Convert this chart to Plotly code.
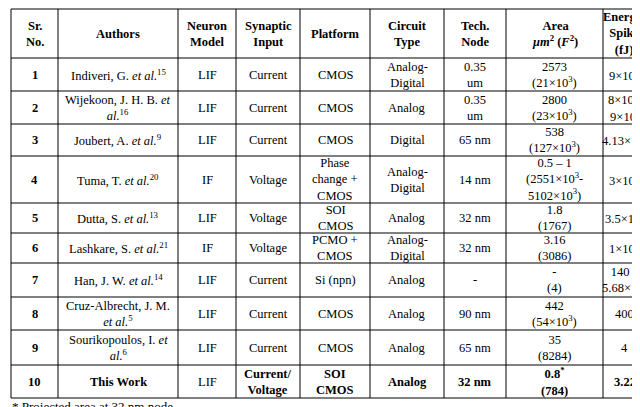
import plotly.graph_objects as go

headers = ["<b>Sr.<br>No.</b>", "<b>Authors</b>", "<b>Neuron<br>Model</b>", "<b>Synaptic<br>Input</b>",
           "<b>Platform</b>", "<b>Circuit<br>Type</b>", "<b>Tech.<br>Node</b>",
           "<b>Area<br><i>μm</i><sup>2</sup> (<i>F</i><sup>2</sup>)</b>", "<b>Energy/<br>Spike<br>(fJ)</b>"]

sr_no = ["<b>%d</b>" % i for i in range(1, 11)]
authors = ["Indiveri, G. <i>et al.</i><sup>15</sup>", "Wijekoon, J. H. B. <i>et</i><br><i>al.</i><sup>16</sup>",
           "Joubert, A. <i>et al.</i><sup>9</sup>", "Tuma, T. <i>et al.</i><sup>20</sup>",
           "Dutta, S. <i>et al.</i><sup>13</sup>", "Lashkare, S. <i>et al.</i><sup>21</sup>",
           "Han, J. W. <i>et al.</i><sup>14</sup>", "Cruz-Albrecht, J. M.<br><i>et al.</i><sup>5</sup>",
           "Sourikopoulos, I. <i>et</i><br><i>al.</i><sup>6</sup>", "<b>This Work</b>"]
neuron = ["LIF", "LIF", "LIF", "IF", "LIF", "IF", "LIF", "LIF", "LIF", "LIF"]
synaptic = ["Current", "Current", "Current", "Voltage", "Voltage", "Voltage", "Current", "Current",
            "Current", "<b>Current/<br>Voltage</b>"]
platform = ["CMOS", "CMOS", "CMOS", "Phase<br>change +<br>CMOS", "SOI<br>CMOS", "PCMO +<br>CMOS",
            "Si (npn)", "CMOS", "CMOS", "<b>SOI<br>CMOS</b>"]
circuit = ["Analog-<br>Digital", "Analog", "Digital", "Analog-<br>Digital", "Analog", "Analog-<br>Digital",
           "Analog", "Analog", "Analog", "<b>Analog</b>"]
tech = ["0.35<br>um", "0.35<br>um", "65 nm", "14 nm", "32 nm", "32 nm", "-", "90 nm", "65 nm", "<b>32 nm</b>"]
area = ["2573<br>(21×10<sup>3</sup>)", "2800<br>(23×10<sup>3</sup>)", "538<br>(127×10<sup>3</sup>)",
        "0.5 – 1<br>(2551×10<sup>3</sup>-<br>5102×10<sup>3</sup>)", "1.8<br>(1767)", "3.16<br>(3086)",
        "-<br>(4)", "442<br>(54×10<sup>3</sup>)", "35<br>(8284)", "<b>0.8<sup>*</sup><br>(784)</b>"]
energy = ["9×10<sup>5</sup>", "8×10<sup>3</sup>-<br>9×10<sup>3</sup>", "4.13×10<sup>4</sup>", "3×10<sup>4</sup>",
          "3.5×10<sup>4</sup>", "1×10<sup>4</sup>", "140 –<br>5.68×10<sup>3</sup>", "400", "4", "<b>3.22</b>"]

columns = [sr_no, authors, neuron, synaptic, platform, circuit, tech, area, energy]

# layout grid (pixel units)
col_edges = [3, 50, 170, 228, 292, 362, 436, 498, 595, 638]
row_heights = [49, 33, 33, 32, 47, 30, 30, 34, 33, 35, 33]
row_edges = [1]
for h in row_heights:
    row_edges.append(row_edges[-1] + h)

fnt = dict(family="Liberation Serif", size=12.5, color="black")
fig = go.Figure()

for i, h in enumerate(headers):
    fig.add_annotation(x=(col_edges[i] + col_edges[i + 1]) / 2, y=(row_edges[0] + row_edges[1]) / 2,
                       text=h, showarrow=False, font=fnt)
for c, col in enumerate(columns):
    for r, v in enumerate(col):
        fig.add_annotation(x=(col_edges[c] + col_edges[c + 1]) / 2, y=(row_edges[r + 1] + row_edges[r + 2]) / 2,
                           text=v, showarrow=False, font=fnt)

line = dict(color="black", width=1)
for xe in col_edges:
    fig.add_shape(type="line", x0=xe, x1=xe, y0=row_edges[0], y1=row_edges[-1], line=line)
for ye in row_edges:
    fig.add_shape(type="line", x0=col_edges[0], x1=col_edges[-1], y0=ye, y1=ye, line=line)

fig.add_annotation(text="* Projected area at 32 nm node", x=2, y=398, xanchor="left", showarrow=False,
                   font=dict(family="Liberation Serif", size=13, color="black"))

fig.update_xaxes(range=[0, 640], visible=False)
fig.update_yaxes(range=[407, 0], visible=False)
fig.update_layout(width=640, height=407, margin=dict(l=0, r=0, t=0, b=0),
                  paper_bgcolor="white", plot_bgcolor="white")
fig.write_html("out.html")
